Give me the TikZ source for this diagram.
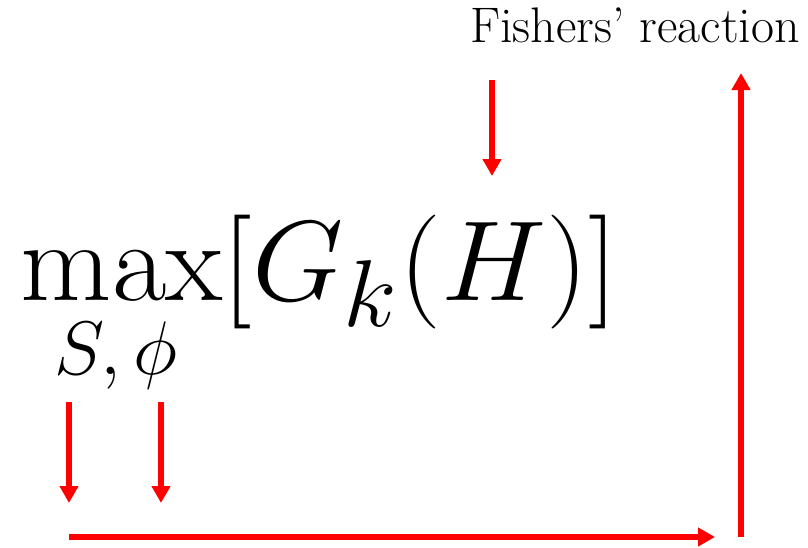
\documentclass[tikz,border=0pt]{standalone}
\usepackage{amsmath}
\usepackage{graphicx}
\usepackage{tikz}
\usetikzlibrary{arrows.meta, positioning}
\definecolor{flowred}{HTML}{FF0000}
\tikzset{
  redarrow/.style={-{Triangle[length=17pt,width=18pt]}, line width=5.5pt, flowred},
  bigmath/.style={inner sep=0pt, font=\Huge},
}

\begin{document}
\begin{tikzpicture}[x=1pt,y=-1pt]
    \useasboundingbox (0,0) rectangle (808,547);
    \node[anchor=base east,inner sep=0pt,font=\fontsize{50}{56}\selectfont] (fishers) at (800,42) {Fishers' reaction};
    \node[bigmath,anchor=base west] (objective) at (20,300) {\scalebox{4.75}[4.58]{$\max[G_k(H)]$}};
    \node[bigmath,anchor=base] (controls) at (116,374) {\scalebox{3.05}{$S,\phi$}};
    % choice variables
    \coordinate (stop) at (69,402);
    \coordinate (sbot) at (69,503);
    \coordinate (phitop) at (161,402);
    \coordinate (phibot) at (161,503);
    \coordinate (flowstart) at (69,537);
    \coordinate (flowend) at (715,537);
    \coordinate (risebot) at (741,537);
    \coordinate (risetop) at (741,73);
    \coordinate (reacttop) at (492,80);
    \coordinate (reactbot) at (492,176);
    \draw[redarrow] (stop) -- (sbot);
    \draw[redarrow] (phitop) -- (phibot);
    \draw[redarrow] (flowstart) -- (flowend);
    \draw[redarrow] (risebot) -- (risetop);
    \draw[redarrow] (reacttop) -- (reactbot);
\end{tikzpicture}
\end{document}
